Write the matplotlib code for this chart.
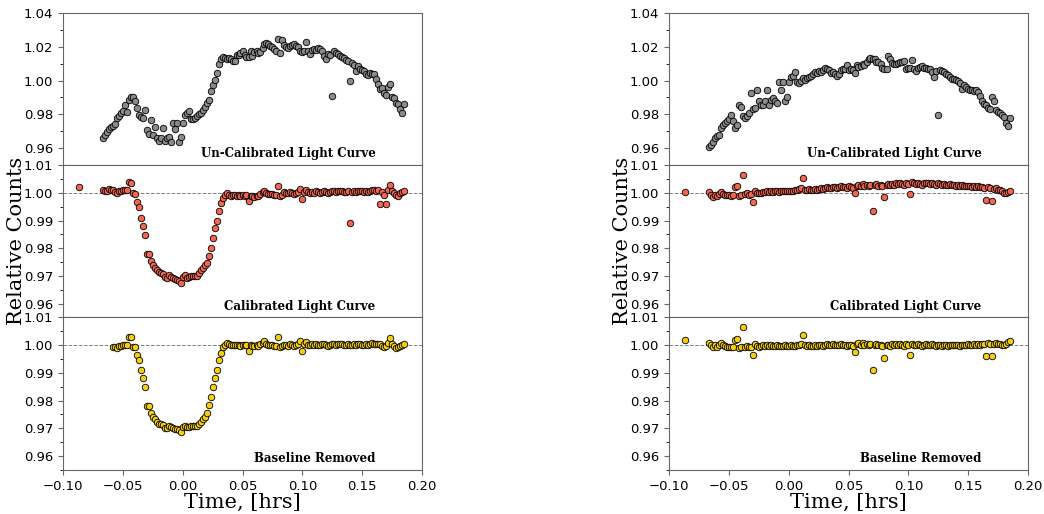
import numpy as np
import matplotlib
matplotlib.use("Agg")
import matplotlib.pyplot as plt
from matplotlib.ticker import MultipleLocator, AutoMinorLocator

nan = np.nan

# mid-exposure times (hrs from mid-transit), shared by both nights
t_hrs = [
    -0.0667, -0.0650, -0.0633, -0.0617, -0.0600, -0.0583,
    -0.0567, -0.0550, -0.0533, -0.0517, -0.0500, -0.0483,
    -0.0467, -0.0450, -0.0433, -0.0417, -0.0400, -0.0383,
    -0.0367, -0.0350, -0.0333, -0.0317, -0.0300, -0.0283,
    -0.0267, -0.0250, -0.0233, -0.0217, -0.0200, -0.0183,
    -0.0167, -0.0150, -0.0133, -0.0117, -0.0100, -0.0083,
    -0.0067, -0.0050, -0.0033, -0.0017, 0.0000, 0.0017,
    0.0033, 0.0050, 0.0067, 0.0083, 0.0100, 0.0117,
    0.0133, 0.0150, 0.0167, 0.0183, 0.0200, 0.0217,
    0.0233, 0.0250, 0.0267, 0.0283, 0.0300, 0.0317,
    0.0333, 0.0350, 0.0367, 0.0383, 0.0400, 0.0417,
    0.0433, 0.0450, 0.0467, 0.0483, 0.0500, 0.0517,
    0.0533, 0.0550, 0.0567, 0.0583, 0.0600, 0.0617,
    0.0633, 0.0650, 0.0667, 0.0683, 0.0700, 0.0717,
    0.0733, 0.0750, 0.0767, 0.0783, 0.0800, 0.0817,
    0.0833, 0.0850, 0.0867, 0.0883, 0.0900, 0.0917,
    0.0933, 0.0950, 0.0967, 0.0983, 0.1000, 0.1017,
    0.1033, 0.1050, 0.1067, 0.1083, 0.1100, 0.1117,
    0.1133, 0.1150, 0.1167, 0.1183, 0.1200, 0.1217,
    0.1233, 0.1250, 0.1267, 0.1283, 0.1300, 0.1317,
    0.1333, 0.1350, 0.1367, 0.1383, 0.1400, 0.1417,
    0.1433, 0.1450, 0.1467, 0.1483, 0.1500, 0.1517,
    0.1533, 0.1550, 0.1567, 0.1583, 0.1600, 0.1617,
    0.1633, 0.1650, 0.1667, 0.1683, 0.1700, 0.1717,
    0.1733, 0.1750, 0.1767, 0.1783, 0.1800, 0.1817,
    0.1833, 0.1850,
]

# night 1 (left column)
raw_1 = [
    0.9663, 0.9676, 0.9695, 0.9712, 0.9728, 0.9733,
    0.9741, 0.9780, 0.9792, 0.9808, 0.9820, 0.9857,
    0.9816, 0.9884, 0.9904, 0.9900, 0.9882, 0.9835,
    0.9795, 0.9786, 0.9777, 0.9825, 0.9705, 0.9682,
    0.9765, 0.9678, 0.9728, 0.9663, 0.9643, 0.9663,
    0.9722, 0.9643, 0.9663, 0.9667, 0.9637, 0.9751,
    0.9712, 0.9751, 0.9637, 0.9669, 0.9751, 0.9794,
    0.9806, 0.9819, 0.9775, 0.9771, 0.9776, 0.9790,
    0.9800, 0.9806, 0.9825, 0.9845, 0.9870, 0.9888,
    0.9937, 0.9975, 1.0005, 1.0045, 1.0098, 1.0125,
    1.0138, 1.0132, 1.0127, 1.0135, 1.0127, 1.0118,
    1.0115, 1.0150, 1.0152, 1.0160, 1.0174, 1.0150,
    1.0138, 1.0140, 1.0176, 1.0143, 1.0167, 1.0172,
    1.0160, 1.0170, 1.0192, 1.0216, 1.0222, 1.0218,
    1.0206, 1.0198, 1.0185, 1.0172, 1.0245, 1.0163,
    1.0237, 1.0212, 1.0198, 1.0192, 1.0206, 1.0212,
    1.0218, 1.0205, 1.0198, 1.0172, 1.0170, 1.0172,
    1.0225, 1.0172, 1.0157, 1.0182, 1.0188, 1.0182,
    1.0192, 1.0186, 1.0172, 1.0147, 1.0127, 1.0159,
    1.0150, 0.9908, 1.0172, 1.0163, 1.0157, 1.0147,
    1.0140, 1.0133, 1.0124, 1.0114, 0.9996, 1.0104,
    1.0094, 1.0055, 1.0084, 1.0069, 1.0061, 1.0055,
    1.0041, 1.0035, 1.0045, 1.0041, 1.0041, 1.0010,
    0.9982, 0.9951, 0.9957, 0.9924, 0.9912, 0.9963,
    0.9982, 0.9904, 0.9894, 0.9865, 0.9863, 0.9834,
    0.9810, 0.9859,
]
cal_1 = [
    1.0012, 1.0008, 1.0005, 1.0014, 1.0010, 1.0009,
    1.0004, 1.0000, 1.0006, 1.0008, 1.0010, 1.0009,
    1.0010, 1.0038, 1.0037, 1.0000, 0.9996, 0.9968,
    0.9948, 0.9910, 0.9882, 0.9848, 0.9780, 0.9778,
    0.9754, 0.9738, 0.9730, 0.9721, 0.9714, 0.9710,
    0.9706, 0.9697, 0.9694, 0.9702, 0.9697, 0.9694,
    0.9690, 0.9685, 0.9682, 0.9676, 0.9697, 0.9702,
    0.9694, 0.9697, 0.9700, 0.9700, 0.9699, 0.9700,
    0.9710, 0.9720, 0.9730, 0.9738, 0.9745, 0.9772,
    0.9802, 0.9838, 0.9872, 0.9900, 0.9934, 0.9962,
    0.9982, 0.9994, 0.9998, 0.9992, 0.9990, 0.9993,
    0.9991, 0.9990, 0.9992, 0.9989, 0.9991, 0.9990,
    0.9992, 0.9970, 0.9990, 0.9988, 0.9986, 0.9990,
    0.9988, 0.9995, 1.0003, 1.0006, 0.9998, 0.9997,
    0.9995, 0.9996, 0.9994, 0.9993, 1.0026, 0.9990,
    0.9993, 1.0002, 1.0001, 0.9998, 1.0003, 1.0000,
    0.9996, 0.9998, 1.0004, 1.0014, 0.9978, 1.0004,
    1.0010, 1.0002, 1.0000, 1.0004, 1.0001, 1.0005,
    1.0003, 1.0000, 1.0004, 1.0006, 1.0002, 0.9999,
    1.0003, 1.0005, 1.0006, 1.0004, 1.0008, 1.0006,
    1.0005, 1.0004, 1.0003, 1.0006, 0.9892, 1.0004,
    1.0007, 1.0003, 1.0006, 1.0008, 1.0005, 1.0004,
    1.0006, 1.0003, 1.0008, 1.0012, 1.0010, 1.0008,
    1.0010, 0.9959, 1.0002, 0.9994, 0.9958, 1.0010,
    1.0028, 1.0006, 0.9998, 0.9993, 0.9990, 0.9998,
    1.0002, 1.0006,
]
flat_1 = [
    nan, nan, nan, nan, nan, 0.9994,
    0.9993, 0.9989, 0.9996, 0.9998, 0.9999, 0.9999,
    1.0000, 1.0030, 1.0031, 0.9995, 0.9992, 0.9963,
    0.9945, 0.9909, 0.9881, 0.9849, 0.9781, 0.9780,
    0.9756, 0.9741, 0.9732, 0.9723, 0.9717, 0.9714,
    0.9711, 0.9702, 0.9702, 0.9709, 0.9705, 0.9702,
    0.9699, 0.9697, 0.9693, 0.9685, 0.9703, 0.9708,
    0.9703, 0.9705, 0.9707, 0.9709, 0.9709, 0.9708,
    0.9715, 0.9721, 0.9732, 0.9741, 0.9756, 0.9783,
    0.9813, 0.9849, 0.9883, 0.9911, 0.9945, 0.9971,
    0.9993, 1.0001, 1.0007, 1.0003, 1.0000, 1.0002,
    0.9999, 1.0001, 1.0000, 0.9998, 1.0001, 1.0000,
    1.0001, 0.9978, 1.0000, 0.9998, 0.9996, 1.0000,
    0.9997, 1.0003, 1.0008, 1.0014, 1.0004, 1.0002,
    0.9999, 1.0001, 0.9998, 0.9996, 1.0029, 0.9993,
    0.9997, 1.0002, 1.0001, 0.9998, 1.0003, 0.9999,
    0.9996, 0.9999, 1.0004, 1.0014, 0.9978, 1.0004,
    1.0011, 1.0001, 0.9999, 1.0003, 1.0000, 1.0004,
    1.0002, 0.9999, 1.0003, 1.0005, 1.0001, 0.9998,
    1.0002, 1.0003, 1.0004, 1.0002, 1.0006, 1.0004,
    1.0003, 1.0002, 1.0001, 1.0004, 1.0002, 1.0001,
    1.0004, 1.0000, 1.0003, 1.0005, 1.0002, 1.0000,
    1.0003, 1.0001, 1.0005, 1.0008, 1.0006, 1.0004,
    1.0006, 1.0003, 0.9998, 0.9992, 0.9996, 1.0007,
    1.0025, 1.0004, 0.9998, 0.9990, 0.9993, 0.9998,
    1.0001, 1.0005,
]

# night 2 (right column)
raw_2 = [
    0.9608, 0.9622, 0.9637, 0.9659, 0.9672, 0.9680,
    0.9722, 0.9735, 0.9747, 0.9761, 0.9771, 0.9796,
    0.9761, 0.9722, 0.9735, 0.9853, 0.9843, 0.9790,
    0.9776, 0.9790, 0.9810, 0.9924, 0.9829, 0.9839,
    0.9947, 0.9882, 0.9853, 0.9853, 0.9878, 0.9943,
    0.9853, 0.9888, 0.9898, 0.9878, 0.9865, 0.9990,
    0.9943, 0.9994, 0.9878, 0.9904, 0.9990, 1.0022,
    1.0029, 1.0049, 0.9990, 0.9986, 0.9996, 1.0016,
    1.0006, 1.0016, 1.0022, 1.0029, 1.0041, 1.0049,
    1.0045, 1.0055, 1.0049, 1.0060, 1.0075, 1.0069,
    1.0060, 1.0045, 1.0049, 1.0041, 1.0029, 1.0041,
    1.0060, 1.0069, 1.0069, 1.0094, 1.0065, 1.0069,
    1.0062, 1.0045, 1.0094, 1.0080, 1.0085, 1.0099,
    1.0091, 1.0109, 1.0125, 1.0135, 1.0130, 1.0125,
    1.0109, 1.0111, 1.0095, 1.0076, 1.0070, 1.0066,
    1.0145, 1.0125, 1.0105, 1.0099, 1.0095, 1.0105,
    1.0109, 1.0112, 1.0115, 1.0066, 1.0072, 1.0076,
    1.0119, 1.0070, 1.0056, 1.0076, 1.0082, 1.0085,
    1.0076, 1.0076, 1.0070, 1.0066, 1.0050, 1.0020,
    1.0056, 0.9795, 1.0062, 1.0056, 1.0050, 1.0036,
    1.0030, 1.0020, 1.0012, 1.0010, 1.0006, 0.9996,
    0.9987, 0.9952, 0.9971, 0.9964, 0.9952, 0.9944,
    0.9944, 0.9938, 0.9944, 0.9932, 0.9909, 0.9879,
    0.9860, 0.9854, 0.9840, 0.9830, 0.9903, 0.9879,
    0.9826, 0.9814, 0.9806, 0.9795, 0.9787, 0.9747,
    0.9732, 0.9781,
]
cal_2 = [
    1.0002, 0.9994, 0.9986, 0.9994, 0.9990, 0.9996,
    1.0004, 0.9996, 0.9994, 0.9994, 0.9992, 0.9990,
    0.9991, 1.0022, 1.0024, 0.9990, 0.9993, 1.0066,
    0.9996, 0.9998, 0.9994, 0.9995, 0.9968, 1.0005,
    1.0000, 0.9998, 1.0001, 1.0003, 1.0002, 1.0005,
    1.0004, 1.0007, 1.0003, 1.0005, 1.0006, 1.0004,
    1.0006, 1.0005, 1.0007, 1.0005, 1.0006, 1.0008,
    1.0005, 1.0009, 1.0011, 1.0014, 1.0016, 1.0052,
    1.0012, 1.0011, 1.0013, 1.0010, 1.0012, 1.0014,
    1.0011, 1.0015, 1.0017, 1.0014, 1.0018, 1.0020,
    1.0017, 1.0019, 1.0022, 1.0020, 1.0018, 1.0021,
    1.0023, 1.0020, 1.0022, 1.0019, 1.0023, 1.0021,
    1.0018, 0.9998, 1.0025, 1.0030, 1.0026, 1.0032,
    1.0024, 1.0028, 1.0025, 1.0030, 0.9936, 1.0027,
    1.0031, 1.0026, 1.0028, 1.0025, 0.9984, 1.0029,
    1.0031, 1.0027, 1.0032, 1.0030, 1.0034, 1.0031,
    1.0036, 1.0032, 1.0030, 1.0036, 1.0033, 0.9996,
    1.0038, 1.0035, 1.0032, 1.0036, 1.0033, 1.0030,
    1.0034, 1.0037, 1.0035, 1.0032, 1.0036, 1.0033,
    1.0030, 1.0034, 1.0031, 1.0029, 1.0033, 1.0030,
    1.0028, 1.0031, 1.0027, 1.0029, 1.0026, 1.0028,
    1.0024, 1.0027, 1.0025, 1.0023, 1.0026, 1.0024,
    1.0022, 1.0025, 1.0021, 1.0023, 1.0020, 1.0022,
    1.0019, 0.9974, 1.0021, 1.0016, 0.9970, 1.0014,
    1.0016, 1.0012, 1.0010, 1.0005, 1.0001, 0.9999,
    1.0002, 1.0005,
]
flat_2 = [
    1.0008, 0.9999, 0.9993, 0.9999, 0.9995, 1.0000,
    1.0008, 0.9999, 0.9996, 0.9994, 0.9993, 0.9993,
    0.9994, 1.0020, 1.0023, 0.9989, 0.9992, 1.0065,
    0.9993, 0.9996, 0.9994, 0.9995, 0.9963, 1.0005,
    0.9998, 0.9995, 0.9998, 1.0000, 0.9996, 0.9999,
    0.9997, 1.0001, 0.9996, 0.9998, 0.9999, 0.9996,
    0.9998, 0.9997, 0.9999, 0.9996, 0.9997, 0.9999,
    0.9996, 0.9998, 1.0000, 1.0002, 1.0003, 1.0037,
    0.9999, 0.9997, 0.9999, 0.9996, 0.9998, 1.0000,
    0.9997, 1.0000, 1.0002, 0.9998, 1.0001, 1.0003,
    0.9999, 1.0001, 1.0004, 1.0001, 0.9999, 1.0002,
    1.0003, 1.0000, 1.0002, 0.9998, 1.0002, 1.0000,
    0.9998, 0.9974, 1.0003, 1.0007, 1.0002, 1.0008,
    1.0000, 1.0003, 0.9999, 1.0004, 0.9909, 1.0000,
    1.0004, 0.9999, 1.0001, 0.9998, 0.9953, 1.0001,
    1.0002, 0.9998, 1.0003, 1.0000, 1.0004, 1.0000,
    1.0005, 1.0001, 0.9998, 1.0004, 1.0001, 0.9963,
    1.0006, 1.0002, 0.9999, 1.0003, 1.0000, 0.9997,
    1.0001, 1.0004, 1.0002, 0.9999, 1.0003, 1.0000,
    0.9997, 1.0001, 0.9999, 0.9997, 1.0002, 0.9999,
    0.9998, 1.0002, 0.9999, 1.0001, 0.9999, 1.0002,
    0.9998, 1.0002, 1.0001, 0.9999, 1.0003, 1.0002,
    1.0000, 1.0004, 1.0001, 1.0004, 1.0002, 1.0005,
    1.0003, 0.9962, 1.0008, 1.0004, 0.9962, 1.0006,
    1.0009, 1.0006, 1.0005, 1.0002, 0.9999, 1.0004,
    1.0010, 1.0016,
]

# single early exposure, kept after calibration only
early_t = [-0.0867]
early_cal_1 = [1.0020]
early_flat_1 = [nan]
early_cal_2 = [1.0002]
early_flat_2 = [1.0017]

panel_titles = ["Un-Calibrated Light Curve", "Calibrated Light Curve", "Baseline Removed"]
face_colors = ["#8a8a8a", "#f2654e", "#f4cd12"]

fig = plt.figure(figsize=(10.44, 5.14), dpi=100)


def light_curve_column(left, series, extras):
    gs = fig.add_gridspec(3, 1, left=left, right=left + 0.344,
                          bottom=0.086, top=0.975, hspace=0)
    axes = []
    for row in range(3):
        ax = fig.add_subplot(gs[row], sharex=axes[0] if axes else None)
        y = np.array(series[row], dtype=float)
        ax.scatter(t_hrs, y, s=22, c=face_colors[row], edgecolors="black",
                   linewidths=0.6, zorder=3)
        if extras[row] is not None:
            ax.scatter(early_t, extras[row], s=22, c=face_colors[row],
                       edgecolors="black", linewidths=0.6, zorder=3)
        if row == 0:
            ax.set_ylim(0.95, 1.04)
            ax.yaxis.set_major_locator(MultipleLocator(0.02))
        else:
            ax.set_ylim(0.955, 1.01)
            ax.yaxis.set_major_locator(MultipleLocator(0.01))
            ax.axhline(1.0, color="gray", ls="--", lw=0.7, zorder=1)
        ax.yaxis.set_minor_locator(AutoMinorLocator(2))
        ax.text(0.87, 0.075, panel_titles[row], transform=ax.transAxes,
                ha="right", va="center", family="DejaVu Serif",
                fontweight="bold", fontsize=8.5)
        for side in ax.spines.values():
            side.set_color("#666666")
        ax.tick_params(axis="both", labelsize=9.5, length=3.5, color="#666666")
        ax.tick_params(axis="y", which="minor", length=2)
        if row < 2:
            ax.tick_params(axis="x", bottom=False, labelbottom=False)
        axes.append(ax)
    axes[0].set_xlim(-0.1, 0.2)
    axes[0].xaxis.set_major_locator(MultipleLocator(0.05))
    axes[2].set_xlabel("Time, [hrs]", family="DejaVu Serif", fontsize=15,
                       labelpad=0)
    axes[1].set_ylabel("Relative Counts", family="DejaVu Serif", fontsize=15)
    axes[1].yaxis.set_label_coords(-0.104, 0.5)
    return axes


light_curve_column(0.0603, [raw_1, cal_1, flat_1], [None, early_cal_1, early_flat_1])
light_curve_column(0.6408, [raw_2, cal_2, flat_2], [None, early_cal_2, early_flat_2])

fig.savefig("out.png", dpi=100)
